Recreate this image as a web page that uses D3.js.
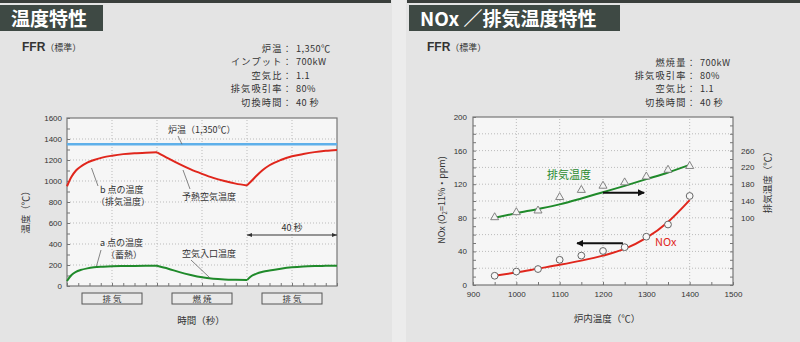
<!DOCTYPE html>
<html>
<head>
<meta charset="utf-8">
<script src="https://cdn.jsdelivr.net/npm/d3@7"></script>
<style>
  body { margin: 0; background: #e4e4e4; }
  svg { display: block; font-family: "Noto Sans CJK JP", "Noto Sans", sans-serif; }
  .tick text { font-size: 8px; fill: #333; }
</style>
</head>
<body>
<svg id="chart" width="800" height="342"></svg>
<script>
// ---- left chart: 温度特性 ----
const timeSec = [0, 2, 4, 6, 9, 12, 16, 20, 25, 30, 35, 40, 45, 50, 55, 60, 65, 70, 75, 80, 82, 84, 87, 90, 95, 100, 105, 110, 115, 120];
const bPointTemp = [950, 1040, 1100, 1136, 1175, 1200, 1225, 1241, 1256, 1265, 1270, 1273, 1215, 1160, 1110, 1068, 1030, 1000, 975, 958, 1000, 1045, 1105, 1150, 1200, 1235, 1257, 1275, 1287, 1295];
const aPointTemp = [48, 105, 135, 152, 168, 178, 184, 188, 190, 191, 192, 193, 165, 132, 105, 83, 70, 63, 59, 56, 95, 115, 135, 148, 165, 178, 186, 190, 192, 194];
const furnaceTempLine = 1350;
const switchTimes = [0, 40, 80, 120];
const phaseLabels = ["排 気", "燃 焼", "排 気"];
const leftConditions = [["炉温", "1,350℃"], ["インプット", "700kW"], ["空気比", "1.1"], ["排気吸引率", "80%"], ["切換時間", "40 秒"]];
const leftYTicks = [0, 200, 400, 600, 800, 1000, 1200, 1400, 1600];

// ---- right chart: NOx／排気温度特性 ----
const furnaceTemp = [950, 1000, 1050, 1100, 1150, 1200, 1250, 1300, 1350, 1400];
const noxMeasured = [11, 16, 19, 30, 35, 40.5, 45, 57.5, 72, 106];
const noxFit = [11, 15, 19.5, 24, 29, 35, 43, 56, 75, 101];
const exhaustMeasured = [101, 113, 117, 149, 166, 176, 184, 198, 214, 223];
const exhaustFit = [100, 111, 121, 132, 146, 161, 176, 192, 208, 226];
const rightConditions = [["燃焼量", "700kW"], ["排気吸引率", "80%"], ["空気比", "1.1"], ["切換時間", "40 秒"]];
const noxTicks = [0, 40, 80, 120, 160, 200];
const exhaustTicks = [100, 140, 180, 220, 260];
const furnaceTicks = [900, 1000, 1100, 1200, 1300, 1400, 1500];

const svg = d3.select("#chart");
const txt = "#333";

// panels and title blocks
svg.append("rect").attr("x", 392).attr("y", 0).attr("width", 14).attr("height", 342).attr("fill", "#ececec");
svg.append("rect").attr("x", 0).attr("y", 0).attr("width", 391).attr("height", 3).attr("fill", "#3a3f3c");
svg.append("rect").attr("x", 407).attr("y", 0).attr("width", 393).attr("height", 3).attr("fill", "#3a3f3c");

function titleBlock(x, w, label) {
    svg.append("rect").attr("x", x).attr("y", 5).attr("width", w).attr("height", 26).attr("fill", "#3e4944");
    svg.append("text").attr("x", x + 11).attr("y", 25.5).text(label)
        .attr("fill", "#fff").attr("font-size", 19).attr("font-weight", "bold");
}
titleBlock(0, 103, "温度特性");
titleBlock(409, 211, "NOx ／排気温度特性");

function ffr(x) {
    const t = svg.append("text").attr("x", x).attr("y", 51).attr("fill", txt);
    t.append("tspan").text("FFR").attr("font-size", 12).attr("font-weight", "bold").attr("font-family", "Liberation Sans, Arial");
    t.append("tspan").text("（標準）").attr("font-size", 9);
}
ffr(22);
ffr(427);

// label + colon right-aligned, value after the colon
function conditions(list, colonX, y0) {
    list.forEach((c, i) => {
        const y = y0 + i * 13.4;
        svg.append("text").attr("x", colonX + 4).attr("y", y).attr("text-anchor", "end")
            .attr("font-size", 9.2).attr("letter-spacing", 1.2).attr("fill", txt).text(c[0] + "：");
        svg.append("text").attr("x", colonX + 7).attr("y", y)
            .attr("font-size", 9.2).attr("letter-spacing", 0.4).attr("fill", txt).text(c[1]);
    });
}
conditions(leftConditions, 289, 52);
conditions(rightConditions, 693, 65.5);

// ======= left chart =======
const xL = d3.scaleLinear().domain([0, 120]).range([67, 337]);
const yL = d3.scaleLinear().domain([0, 1600]).range([286, 118]);
const gL = svg.append("g");

gL.append("rect").attr("x", xL(0)).attr("y", yL(1600)).attr("width", xL(120) - xL(0)).attr("height", yL(0) - yL(1600)).attr("fill", "#f6f6f6");
gL.selectAll(".hg").data(leftYTicks.slice(1, -1)).join("line")
    .attr("x1", xL(0)).attr("x2", xL(120)).attr("y1", d => yL(d)).attr("y2", d => yL(d))
    .attr("stroke", "#bbb").attr("stroke-dasharray", "1,2");
gL.selectAll(".vg").data([20, 40, 60, 80, 100]).join("line")
    .attr("x1", d => xL(d)).attr("x2", d => xL(d)).attr("y1", yL(0)).attr("y2", yL(1600))
    .attr("stroke", "#bbb").attr("stroke-dasharray", "1,2");

gL.append("g").attr("transform", `translate(${xL(0)},0)`)
    .call(d3.axisLeft(yL).tickValues(d3.range(0, 1601, 100)).tickSize(-3).tickPadding(5).tickFormat(d => d % 200 === 0 ? d : ""))
    .call(g => g.select(".domain").remove())
    .call(g => g.selectAll(".tick line").attr("stroke", "#777"));
gL.append("g").attr("transform", `translate(0,${yL(0)})`)
    .call(d3.axisBottom(xL).tickValues(d3.range(0, 121, 5)).tickSize(-3).tickFormat(""))
    .call(g => g.select(".domain").remove())
    .call(g => g.selectAll(".tick line").attr("stroke", "#777"));
gL.append("rect").attr("x", xL(0)).attr("y", yL(1600)).attr("width", xL(120) - xL(0)).attr("height", yL(0) - yL(1600))
    .attr("fill", "none").attr("stroke", "#777").attr("stroke-width", 1.2);

// lines, split at each switching point
function segments(xs, ys) {
    const pts = xs.map((t, i) => [t, ys[i]]);
    return switchTimes.slice(0, -1).map((s, i) => pts.filter(p => p[0] >= s && p[0] <= switchTimes[i + 1]));
}
const lineL = d3.line().x(d => xL(d[0])).y(d => yL(d[1])).curve(d3.curveMonotoneX);
gL.append("line").attr("x1", xL(0)).attr("x2", xL(120)).attr("y1", yL(furnaceTempLine)).attr("y2", yL(furnaceTempLine))
    .attr("stroke", "#5fb0ea").attr("stroke-width", 2.5);
gL.selectAll(".red").data(segments(timeSec, bPointTemp)).join("path").attr("d", lineL)
    .attr("fill", "none").attr("stroke", "#e0261c").attr("stroke-width", 2);
gL.selectAll(".green").data(segments(timeSec, aPointTemp)).join("path").attr("d", lineL)
    .attr("fill", "none").attr("stroke", "#1f8a2a").attr("stroke-width", 2);

// annotations
function note(g, x, y, s, size, color) {
    g.append("text").attr("x", x).attr("y", y).text(s).attr("font-size", size || 9).attr("fill", color || txt);
}
function leader(g, x1, y1, x2, y2) {
    g.append("line").attr("x1", x1).attr("y1", y1).attr("x2", x2).attr("y2", y2).attr("stroke", "#666").attr("stroke-width", 0.8);
}
note(gL, 168, 133, "炉温（1,350℃）");
leader(gL, 178, 136, 182, yL(furnaceTempLine));
note(gL, 100, 193, "b 点の温度");
note(gL, 96, 205, "（排気温度）");
leader(gL, 98, 186, 91.5, 168);
note(gL, 182, 200, "予熱空気温度");
leader(gL, 190, 189, 183, 170);
note(gL, 100, 246, "a 点の温度");
note(gL, 106, 258, "（蓄熱）");
leader(gL, 101, 250, 96.5, 266);
note(gL, 182, 257, "空気入口温度");
leader(gL, 191, 260, 210, 278);

// 40 秒 span
const defs = svg.append("defs");
defs.append("marker").attr("id", "tip").attr("viewBox", "0 0 10 10").attr("refX", 10).attr("refY", 5)
    .attr("markerWidth", 5).attr("markerHeight", 5).attr("orient", "auto-start-reverse")
    .append("path").attr("d", "M0,1 L10,5 L0,9 Z").attr("fill", "#333");
gL.append("line").attr("x1", xL(80)).attr("x2", xL(120)).attr("y1", 235).attr("y2", 235)
    .attr("stroke", "#333").attr("stroke-width", 1)
    .attr("marker-start", "url(#tip)").attr("marker-end", "url(#tip)");
gL.append("text").attr("x", xL(100)).attr("y", 231).attr("text-anchor", "middle").text("40 秒").attr("font-size", 9).attr("fill", txt);

// phase boxes
phaseLabels.forEach((p, i) => {
    const cx = xL((switchTimes[i] + switchTimes[i + 1]) / 2);
    gL.append("rect").attr("x", cx - 30).attr("y", 293).attr("width", 60).attr("height", 11)
        .attr("fill", "#e9e9e9").attr("stroke", "#555").attr("stroke-width", 1);
    gL.append("text").attr("x", cx).attr("y", 302).attr("text-anchor", "middle").text(p).attr("font-size", 8.5).attr("fill", txt);
});
gL.append("text").attr("x", 201).attr("y", 324).attr("text-anchor", "middle").text("時間（秒）").attr("font-size", 9.5).attr("fill", txt);
gL.append("text").attr("transform", "translate(29,210) rotate(-90)").attr("text-anchor", "middle").text("温度（℃）").attr("font-size", 9.5).attr("fill", txt);

// ======= right chart =======
const xR = d3.scaleLinear().domain([900, 1500]).range([473, 733]);
const yR = d3.scaleLinear().domain([0, 200]).range([285, 117]);
const yR2 = d3.scaleLinear().domain([-60, 340]).range([285, 117]);
const gR = svg.append("g");

gR.append("rect").attr("x", xR(900)).attr("y", yR(200)).attr("width", xR(1500) - xR(900)).attr("height", yR(0) - yR(200)).attr("fill", "#f6f6f6");
gR.selectAll(".hg").data(d3.range(20, 200, 20)).join("line")
    .attr("x1", xR(900)).attr("x2", xR(1500)).attr("y1", d => yR(d)).attr("y2", d => yR(d))
    .attr("stroke", "#bbb").attr("stroke-dasharray", "1,2");
gR.selectAll(".vg").data(d3.range(1000, 1500, 100)).join("line")
    .attr("x1", d => xR(d)).attr("x2", d => xR(d)).attr("y1", yR(0)).attr("y2", yR(200))
    .attr("stroke", "#bbb").attr("stroke-dasharray", "1,2");

gR.append("g").attr("transform", `translate(${xR(900)},0)`)
    .call(d3.axisLeft(yR).tickValues(d3.range(0, 201, 10)).tickSize(-3).tickPadding(6).tickFormat(d => noxTicks.includes(d) ? d : ""))
    .call(g => g.select(".domain").remove())
    .call(g => g.selectAll(".tick line").attr("stroke", "#777"));
gR.append("g").attr("transform", `translate(${xR(1500)},0)`)
    .call(d3.axisRight(yR2).tickValues(d3.range(-60, 341, 20)).tickSize(-3).tickPadding(8).tickFormat(d => exhaustTicks.includes(d) ? d : ""))
    .call(g => g.select(".domain").remove())
    .call(g => g.selectAll(".tick line").attr("stroke", "#777"));
gR.append("g").attr("transform", `translate(0,${yR(0)})`)
    .call(d3.axisBottom(xR).tickValues(d3.range(900, 1501, 50)).tickSize(-3).tickPadding(6).tickFormat(d => furnaceTicks.includes(d) ? d : ""))
    .call(g => g.select(".domain").remove())
    .call(g => g.selectAll(".tick line").attr("stroke", "#777"));
gR.append("rect").attr("x", xR(900)).attr("y", yR(200)).attr("width", xR(1500) - xR(900)).attr("height", yR(0) - yR(200))
    .attr("fill", "none").attr("stroke", "#777").attr("stroke-width", 1.2);

const noxLine = d3.line().x((d, i) => xR(furnaceTemp[i])).y(d => yR(d)).curve(d3.curveMonotoneX);
const exLine = d3.line().x((d, i) => xR(furnaceTemp[i])).y(d => yR2(d)).curve(d3.curveMonotoneX);
gR.append("path").datum(exhaustFit).attr("d", exLine).attr("fill", "none").attr("stroke", "#1f8a2a").attr("stroke-width", 2);
gR.append("path").datum(noxFit).attr("d", noxLine).attr("fill", "none").attr("stroke", "#e0261c").attr("stroke-width", 2);

const tri = d3.symbol().type(d3.symbolTriangle).size(28);
gR.selectAll(".tri").data(exhaustMeasured).join("path")
    .attr("d", tri).attr("transform", (d, i) => `translate(${xR(furnaceTemp[i])},${yR2(d)})`)
    .attr("fill", "#f4f4f4").attr("stroke", "#777").attr("stroke-width", 0.9);
gR.selectAll(".circ").data(noxMeasured).join("circle")
    .attr("cx", (d, i) => xR(furnaceTemp[i])).attr("cy", d => yR(d)).attr("r", 3.4)
    .attr("fill", "#f8f8f8").attr("stroke", "#666").attr("stroke-width", 1);

// direction arrows
defs.append("marker").attr("id", "bigtip").attr("viewBox", "0 0 10 10").attr("refX", 9).attr("refY", 5)
    .attr("markerWidth", 3.5).attr("markerHeight", 3.5).attr("orient", "auto")
    .append("path").attr("d", "M0,0 L10,5 L0,10 Z").attr("fill", "#111");
gR.append("line").attr("x1", xR(1200)).attr("x2", xR(1295)).attr("y1", 192.7).attr("y2", 192.7)
    .attr("stroke", "#111").attr("stroke-width", 2).attr("marker-end", "url(#bigtip)");
gR.append("line").attr("x1", xR(1246)).attr("x2", xR(1140)).attr("y1", 243.3).attr("y2", 243.3)
    .attr("stroke", "#111").attr("stroke-width", 2).attr("marker-end", "url(#bigtip)");

note(gR, 547, 179, "排気温度", 11, "#2a8a2e");
note(gR, 655, 246, "NOx", 11, "#e0261c");

gR.append("text").attr("x", 607).attr("y", 322).attr("text-anchor", "middle").text("炉内温度（℃）").attr("font-size", 9.5).attr("fill", txt);
const yl = gR.append("text").attr("transform", "translate(445,200) rotate(-90)").attr("text-anchor", "middle").attr("font-size", 9).attr("fill", txt);
yl.append("tspan").text("NOx (O");
yl.append("tspan").text("2").attr("font-size", 6).attr("dy", 2);
yl.append("tspan").text("=11%・ppm)").attr("dy", -2);
gR.append("text").attr("transform", "translate(771,180) rotate(-90)").attr("text-anchor", "middle").text("排気温度（℃）").attr("font-size", 9.5).attr("fill", txt);
</script>
</body>
</html>
